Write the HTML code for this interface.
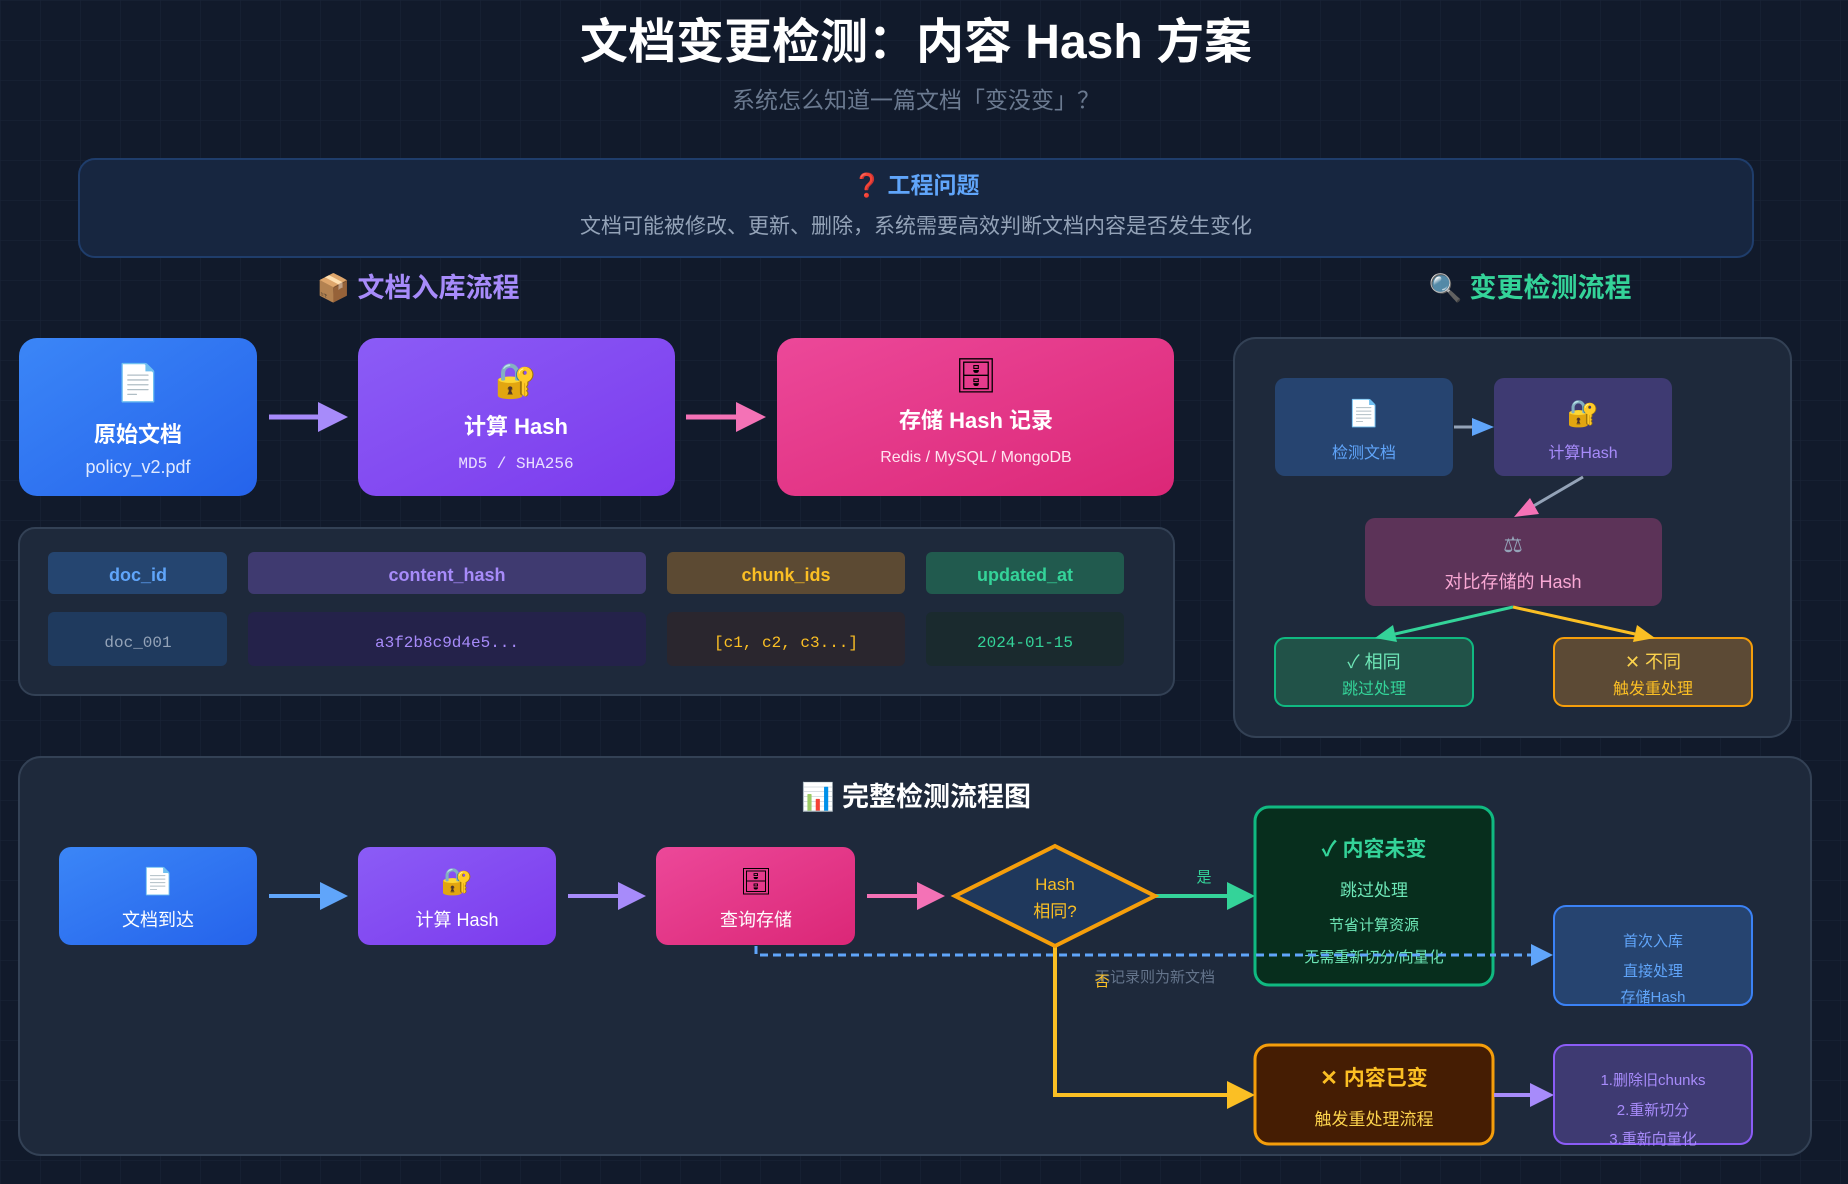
<!DOCTYPE html>
<html><head><meta charset="utf-8"><style>
html,body{margin:0;padding:0;background:#111a2b;}
svg{display:block;font-family:"Liberation Sans","Noto Sans CJK SC",sans-serif;}
.m{font-family:"Liberation Mono","Noto Sans CJK SC",monospace;}
</style></head><body>
<svg width="1848" height="1184" viewBox="0 0 1848 1184" xmlns="http://www.w3.org/2000/svg">
<defs>
<pattern id="grid" width="40" height="40" patternUnits="userSpaceOnUse"><path d="M40 0H0V40" fill="none" stroke="#1b2538" stroke-width="1"/></pattern>
<linearGradient id="gb" x1="0" y1="0" x2="1" y2="1"><stop offset="0" stop-color="#3b86f7"/><stop offset="1" stop-color="#2563eb"/></linearGradient>
<linearGradient id="gp" x1="0" y1="0" x2="1" y2="1"><stop offset="0" stop-color="#8b5cf6"/><stop offset="1" stop-color="#7c3aed"/></linearGradient>
<linearGradient id="gk" x1="0" y1="0" x2="1" y2="1"><stop offset="0" stop-color="#ec4899"/><stop offset="1" stop-color="#db2777"/></linearGradient>
</defs>
<rect width="1848" height="1184" fill="#111a2b"/>
<rect width="1848" height="1184" fill="url(#grid)"/>

<text x="916" y="58" text-anchor="middle" font-size="48" font-weight="bold" fill="#ffffff">文档变更检测：内容 Hash 方案</text>
<text x="916" y="108" text-anchor="middle" font-size="23" fill="#6b7a90">系统怎么知道一篇文档「变没变」？</text>

<rect x="79" y="159" width="1674" height="98" rx="16" fill="#172640" stroke="#1f3d6b" stroke-width="2"/>
<text x="916" y="193" text-anchor="middle" font-size="23" font-weight="bold" fill="#60a5fa"><tspan fill="#dc2626">❓</tspan> 工程问题</text>
<text x="916" y="233" text-anchor="middle" font-size="21" fill="#94a3b8">文档可能被修改、更新、删除，系统需要高效判断文档内容是否发生变化</text>

<text x="418" y="297" text-anchor="middle" font-size="27" font-weight="bold" fill="#a78bfa">📦 文档入库流程</text>
<text x="1530" y="297" text-anchor="middle" font-size="27" font-weight="bold" fill="#34d399">🔍 变更检测流程</text>

<rect x="19" y="338" width="238" height="158" rx="18" fill="url(#gb)"/>
<text x="138" y="395" text-anchor="middle" font-size="36">📄</text>
<text x="138" y="442" text-anchor="middle" font-size="22" font-weight="bold" fill="#fff">原始文档</text>
<text x="138" y="473" text-anchor="middle" font-size="18" fill="#e0eaff">policy_v2.pdf</text>
<rect x="358" y="338" width="317" height="158" rx="18" fill="url(#gp)"/>
<text x="516" y="392" text-anchor="middle" font-size="34">🔐</text>
<text x="516" y="434" text-anchor="middle" font-size="22" font-weight="bold" fill="#fff">计算 Hash</text>
<text x="516" y="468" text-anchor="middle" font-size="16" fill="#e9e0ff" class="m">MD5 / SHA256</text>
<rect x="777" y="338" width="397" height="158" rx="18" fill="url(#gk)"/>
<text x="976" y="387" text-anchor="middle" font-size="34">🗄</text>
<text x="976" y="428" text-anchor="middle" font-size="22" font-weight="bold" fill="#fff">存储 Hash 记录</text>
<text x="976" y="462" text-anchor="middle" font-size="16" fill="#ffe4f0">Redis / MySQL / MongoDB</text>
<path d="M269 417H330" stroke="#a78bfa" stroke-width="5"/><path d="M348 417L318 402V432z" fill="#a78bfa"/>
<path d="M686 417H748" stroke="#f472b6" stroke-width="5"/><path d="M766 417L736 402V432z" fill="#f472b6"/>

<rect x="19" y="528" width="1155" height="167" rx="16" fill="#1e293b" stroke="#334155" stroke-width="2"/>
<rect x="48" y="552" width="179" height="42" rx="6" fill="#254570"/>
<text x="138" y="581" text-anchor="middle" font-size="18" font-weight="bold" fill="#60a5fa">doc_id</text>
<rect x="248" y="552" width="398" height="42" rx="6" fill="#3f3a70"/>
<text x="447" y="581" text-anchor="middle" font-size="18" font-weight="bold" fill="#a78bfa">content_hash</text>
<rect x="667" y="552" width="238" height="42" rx="6" fill="#5c4a33"/>
<text x="786" y="581" text-anchor="middle" font-size="18" font-weight="bold" fill="#fbbf24">chunk_ids</text>
<rect x="926" y="552" width="198" height="42" rx="6" fill="#215a4e"/>
<text x="1025" y="581" text-anchor="middle" font-size="18" font-weight="bold" fill="#34d399">updated_at</text>
<rect x="48" y="612" width="179" height="54" rx="6" fill="#1f3a5e"/>
<text x="138" y="647" text-anchor="middle" font-size="16" fill="#94a3b8" class="m">doc_001</text>
<rect x="248" y="612" width="398" height="54" rx="6" fill="#24224a"/>
<text x="447" y="647" text-anchor="middle" font-size="16" fill="#a78bfa" class="m">a3f2b8c9d4e5...</text>
<rect x="667" y="612" width="238" height="54" rx="6" fill="#2a262e"/>
<text x="786" y="647" text-anchor="middle" font-size="16" fill="#fbbf24" class="m">[c1, c2, c3...]</text>
<rect x="926" y="612" width="198" height="54" rx="6" fill="#1a2a2e"/>
<text x="1025" y="647" text-anchor="middle" font-size="16" fill="#34d399" class="m">2024-01-15</text>

<rect x="1234" y="338" width="557" height="399" rx="22" fill="#1e293b" stroke="#334155" stroke-width="2"/>
<rect x="1275" y="378" width="178" height="98" rx="10" fill="#264470"/>
<text x="1364" y="422" text-anchor="middle" font-size="26">📄</text>
<text x="1364" y="458" text-anchor="middle" font-size="16" fill="#60a5fa">检测文档</text>
<rect x="1494" y="378" width="178" height="98" rx="10" fill="#3e3a72"/>
<text x="1583" y="422" text-anchor="middle" font-size="26">🔐</text>
<text x="1583" y="458" text-anchor="middle" font-size="16" fill="#a78bfa">计算Hash</text>
<path d="M1454 427H1474" stroke="#94a3b8" stroke-width="3"/><path d="M1494 427L1472 418V436z" fill="#60a5fa"/>
<rect x="1365" y="518" width="297" height="88" rx="10" fill="#5c3358"/>
<text x="1513" y="552" text-anchor="middle" font-size="22" fill="#94a3b8">⚖</text>
<text x="1513" y="588" text-anchor="middle" font-size="18" fill="#f9a8d4">对比存储的 Hash</text>
<path d="M1583 477L1530 508" stroke="#94a3b8" stroke-width="3"/><path d="M1514 517L1530 498L1539 514z" fill="#f472b6"/>
<rect x="1275" y="638" width="198" height="68" rx="10" fill="#215248" stroke="#10b981" stroke-width="2"/>
<text x="1374" y="668" text-anchor="middle" font-size="18" fill="#6ee7b7">✓ 相同</text>
<text x="1374" y="694" text-anchor="middle" font-size="16" fill="#34d399">跳过处理</text>
<rect x="1554" y="638" width="198" height="68" rx="10" fill="#5c4a35" stroke="#f59e0b" stroke-width="2"/>
<text x="1653" y="668" text-anchor="middle" font-size="18" fill="#fcd34d">✕ 不同</text>
<text x="1653" y="694" text-anchor="middle" font-size="16" fill="#fbbf24">触发重处理</text>
<path d="M1513 607L1395 634" stroke="#34d399" stroke-width="3"/><path d="M1375 638L1393 625L1397 642z" fill="#34d399"/>
<path d="M1513 607L1635 634" stroke="#fbbf24" stroke-width="3"/><path d="M1655 638L1633 642L1637 625z" fill="#fbbf24"/>

<rect x="19" y="757" width="1792" height="398" rx="22" fill="#1e293b" stroke="#334155" stroke-width="2"/>
<text x="916" y="806" text-anchor="middle" font-size="27" font-weight="bold" fill="#fff">📊 完整检测流程图</text>

<rect x="59" y="847" width="198" height="98" rx="12" fill="url(#gb)"/>
<text x="158" y="890" text-anchor="middle" font-size="26">📄</text>
<text x="158" y="926" text-anchor="middle" font-size="18" fill="#fff">文档到达</text>
<rect x="358" y="847" width="198" height="98" rx="12" fill="url(#gp)"/>
<text x="457" y="890" text-anchor="middle" font-size="26">🔐</text>
<text x="457" y="926" text-anchor="middle" font-size="18" fill="#fff">计算 Hash</text>
<rect x="656" y="847" width="199" height="98" rx="12" fill="url(#gk)"/>
<text x="756" y="890" text-anchor="middle" font-size="26">🗄</text>
<text x="756" y="926" text-anchor="middle" font-size="18" fill="#fff">查询存储</text>
<path d="M269 896H330" stroke="#60a5fa" stroke-width="4"/><path d="M348 896L320 882V910z" fill="#60a5fa"/>
<path d="M568 896H628" stroke="#a78bfa" stroke-width="4"/><path d="M646 896L618 882V910z" fill="#a78bfa"/>
<path d="M867 896H927" stroke="#f472b6" stroke-width="4"/><path d="M945 896L917 882V910z" fill="#f472b6"/>

<path d="M756 946V955H1535" stroke="#60a5fa" stroke-width="3" stroke-dasharray="8 5" fill="none"/>
<path d="M1553 955L1531 944V966z" fill="#60a5fa"/>
<path d="M1055 946V1095H1233" stroke="#fbbf24" stroke-width="4" fill="none"/><path d="M1255 1095L1227 1081V1109z" fill="#fbbf24"/>
<path d="M1155 896H1233" stroke="#34d399" stroke-width="4"/><path d="M1255 896L1227 882V910z" fill="#34d399"/>
<text x="1204" y="882" text-anchor="middle" font-size="15" fill="#34d399">是</text>

<polygon points="1055,846 1155,896 1055,946 955,896" fill="#1f385c" stroke="#f59e0b" stroke-width="4"/>
<text x="1055" y="890" text-anchor="middle" font-size="17" fill="#fbbf24">Hash</text>
<text x="1055" y="917" text-anchor="middle" font-size="17" fill="#fbbf24">相同?</text>

<rect x="1255" y="807" width="238" height="178" rx="14" fill="#072e1d" stroke="#10b981" stroke-width="3"/>
<text x="1374" y="856" text-anchor="middle" font-size="21" font-weight="bold" fill="#34d399">✓ 内容未变</text>
<text x="1374" y="896" text-anchor="middle" font-size="17" fill="#6ee7b7">跳过处理</text>
<text x="1374" y="930" text-anchor="middle" font-size="15" fill="#6ee7b7">节省计算资源</text>
<text x="1374" y="962" text-anchor="middle" font-size="15" fill="#6ee7b7">无需重新切分/向量化</text>
<path d="M1256 955H1495" stroke="#60a5fa" stroke-width="3" stroke-dasharray="8 5"/>

<text x="1155" y="982" text-anchor="middle" font-size="15" fill="#64748b">无记录则为新文档</text>
<text x="1102" y="986" text-anchor="middle" font-size="15" fill="#fbbf24">否</text>

<rect x="1554" y="906" width="198" height="99" rx="12" fill="#264470" stroke="#3b82f6" stroke-width="2"/>
<text x="1653" y="946" text-anchor="middle" font-size="15" fill="#60a5fa">首次入库</text>
<text x="1653" y="976" text-anchor="middle" font-size="15" fill="#60a5fa">直接处理</text>
<text x="1653" y="1002" text-anchor="middle" font-size="15" fill="#60a5fa">存储Hash</text>

<rect x="1255" y="1045" width="238" height="99" rx="14" fill="#451d03" stroke="#f59e0b" stroke-width="3"/>
<text x="1374" y="1085" text-anchor="middle" font-size="21" font-weight="bold" fill="#fbbf24">✕ 内容已变</text>
<text x="1374" y="1125" text-anchor="middle" font-size="17" fill="#fcd34d">触发重处理流程</text>
<path d="M1494 1095H1534" stroke="#a78bfa" stroke-width="4"/><path d="M1554 1095L1530 1083V1107z" fill="#a78bfa"/>

<rect x="1554" y="1045" width="198" height="99" rx="12" fill="#3e3a72" stroke="#8b5cf6" stroke-width="2"/>
<text x="1653" y="1085" text-anchor="middle" font-size="15" fill="#a78bfa">1.删除旧chunks</text>
<text x="1653" y="1115" text-anchor="middle" font-size="15" fill="#a78bfa">2.重新切分</text>
<text x="1653" y="1144" text-anchor="middle" font-size="15" fill="#a78bfa">3.重新向量化</text>
</svg>
</body></html>
